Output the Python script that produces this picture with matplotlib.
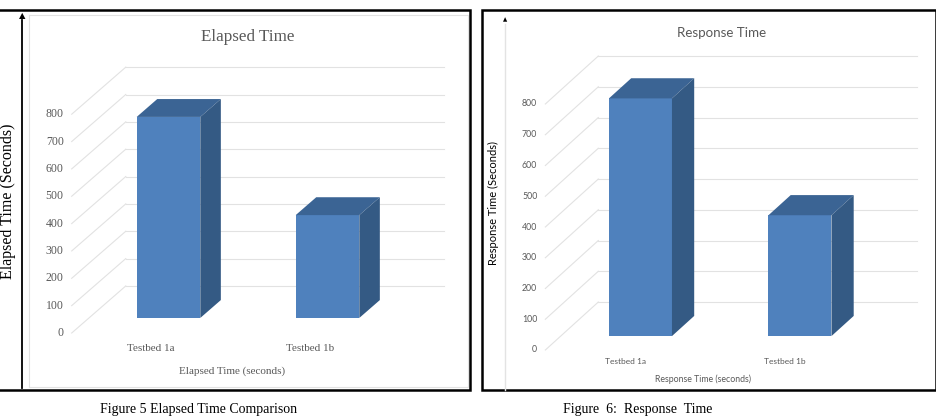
import matplotlib
matplotlib.use("Agg")
import matplotlib.pyplot as plt
from matplotlib.patches import Polygon, Rectangle
from matplotlib.lines import Line2D

# data
categories = ["Testbed 1a", "Testbed 1b"]
elapsed = [735, 376]
response = [773, 393]
ticks = [0, 100, 200, 300, 400, 500, 600, 700, 800]

W, H = 937, 418
fig = plt.figure(figsize=(W / 100, H / 100), dpi=100)

FRONT = "#4f81bd"
TOP = "#3b6494"
SIDE = "#345a84"
GRID = "#e2e2e2"
GRAYTXT = "#595959"


def fx(p):
    return p / W


def fy(p):
    return 1 - p / H


def make_ax(box, cx0, sx, y0, sy):
    # box = pixel box (left, top, right, bottom); mapping x_pix = cx0 + sx*x, y_pix = y0 - sy*v
    l, t, r, b = box
    ax = fig.add_axes([fx(l), fy(b), (r - l) / W, (b - t) / H])
    ax.set_xlim((l - cx0) / sx, (r - cx0) / sx)
    ax.set_ylim((y0 - b) / sy, (y0 - t) / sy)
    ax.set_xticks([])
    ax.set_yticks([])
    return ax


def draw_chart(ax, values, wx, wy, d0, d1, width, font, tick_fs, cat_fs, cat_y):
    xl, xr = -0.5, 1.5
    for v in ticks:
        ax.plot([xl, xl + wx], [v, v + wy], color=GRID, lw=0.8, zorder=1)
        ax.plot([xl + wx, xr + wx], [v + wy, v + wy], color=GRID, lw=0.8, zorder=1)
        ax.text(xl - 0.05, v, str(v), ha="right", va="center", fontsize=tick_fs,
                family=font, color=GRAYTXT)
    dd = d1 - d0
    xs = [i + d0 * wx for i in range(len(values))]
    ax.bar(xs, values, width=width, bottom=d0 * wy, color=FRONT, zorder=3)
    for x, v in zip(xs, values):
        a, b = x - width / 2, x + width / 2
        bot, top = d0 * wy, d0 * wy + v
        ax.add_patch(Polygon([(a, top), (b, top), (b + dd * wx, top + dd * wy),
                              (a + dd * wx, top + dd * wy)], closed=True,
                             facecolor=TOP, edgecolor="none", zorder=3))
        ax.add_patch(Polygon([(b, bot), (b + dd * wx, bot + dd * wy),
                              (b + dd * wx, top + dd * wy), (b, top)], closed=True,
                             facecolor=SIDE, edgecolor="none", zorder=3))
    for i, c in enumerate(categories):
        ax.text(i, cat_y, c, ha="center", va="center", fontsize=cat_fs,
                family=font, color=GRAYTXT)


# ---- left panel: Elapsed Time
ax1 = make_ax((29, 15, 468, 387), 151.2, 159, 333, 0.2735)
for s in ax1.spines.values():
    s.set_color(GRID)
draw_chart(ax1, elapsed, 0.34, 172, 0.32, 0.70, 0.40, "Liberation Serif", 8.5, 8, -58)
fig.text(fx(248), fy(37), "Elapsed Time", ha="center", va="center",
         fontsize=12.3, family="Liberation Serif", color=GRAYTXT)
fig.text(fx(232), fy(371), "Elapsed Time (seconds)", ha="center", va="center",
         fontsize=8, family="Liberation Serif", color=GRAYTXT)
fig.text(fx(8), fy(201), "Elapsed Time (Seconds)", ha="center", va="center",
         rotation=90, fontsize=11.5, family="Liberation Serif", color="black")

# ---- right panel: Response Time
ax2 = make_ax((484, 15, 934, 389), 625.1, 159.5, 350, 0.3075)
for s in ax2.spines.values():
    s.set_visible(False)
draw_chart(ax2, response, 0.332, 156, 0.29, 0.71, 0.395, "Lato", 6.3, 6, -39)
fig.text(fx(722), fy(33), "Response Time", ha="center", va="center",
         fontsize=9.6, family="Lato", color=GRAYTXT)
fig.text(fx(703), fy(379), "Response Time (seconds)", ha="center", va="center",
         fontsize=6.3, family="Lato", color=GRAYTXT)
fig.text(fx(493), fy(203), "Response Time (Seconds)", ha="center", va="center",
         rotation=90, fontsize=8, family="Lato", color="black")

# outer frames and vertical arrows
fig.patches.append(Rectangle((fx(-5), fy(390)), 475 / W, 380 / H, fill=False,
                             edgecolor="black", lw=1.8, transform=fig.transFigure))
fig.patches.append(Rectangle((fx(482), fy(390)), (936 - 482) / W, 380 / H, fill=False,
                             edgecolor="black", lw=1.8, transform=fig.transFigure))
fig.add_artist(Line2D([fx(22), fx(22)], [fy(388), fy(20)], color="black", lw=1.3))
fig.text(fx(22), fy(16), "\u25b2", ha="center", va="center", fontsize=6, color="black")
fig.add_artist(Line2D([fx(505), fx(505)], [fy(390), fy(24)], color="#e3e3e3", lw=1.0))
fig.text(fx(505), fy(20), "\u25b2", ha="center", va="center", fontsize=4, color="black")

# figure captions below the panels
fig.text(fx(100), fy(413), "Figure 5 Elapsed Time Comparison", ha="left", va="baseline",
         fontsize=10, family="Liberation Serif", color="black")
fig.text(fx(563), fy(413), "Figure  6:  Response  Time", ha="left", va="baseline",
         fontsize=10, family="Liberation Serif", color="black")

fig.savefig("out.png", dpi=100)
